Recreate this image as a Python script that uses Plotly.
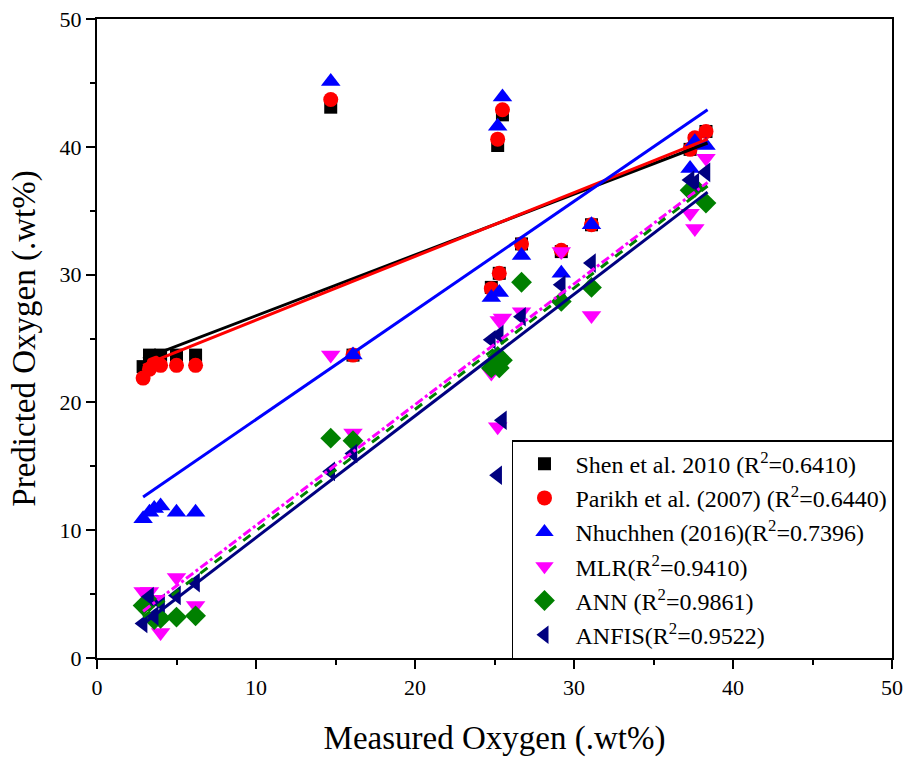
import plotly.graph_objects as go

measured = [2.9, 3.3, 3.6, 4.0, 5.0, 6.2, 14.7, 16.1, 24.8, 25.2, 25.3, 25.5, 26.7, 29.2, 31.1, 37.3, 37.6, 38.3]
shen     = [22.8, 23.7, 23.6, 23.7, 23.7, 23.7, 43.1, 23.7, 29.0, 40.1, 30.1, 42.5, 32.4, 31.8, 33.9, 39.8, 40.5, 41.2]
parikh   = [21.9, 22.6, 23.1, 22.9, 22.9, 22.9, 43.7, 23.7, 28.9, 40.6, 30.1, 42.9, 32.4, 31.9, 33.9, 39.8, 40.7, 41.2]
nhuchhen = [10.9, 11.4, 11.7, 11.9, 11.4, 11.4, 45.1, 23.7, 28.2, 41.6, 28.6, 43.9, 31.5, 30.1, 33.9, 38.3, 40.4, 40.1]
mlr      = [5.2, 5.2, 4.6, 2.0, 6.3, 4.1, 23.7, 17.6, 22.3, 18.1, 26.4, 26.6, 27.1, 31.8, 26.8, 34.8, 33.6, 39.1]
ann      = [4.1, 4.4, 3.0, 3.1, 3.2, 3.3, 17.2, 17.0, 22.7, 23.6, 22.7, 23.3, 29.4, 27.9, 29.0, 36.6, 36.8, 35.6]
anfis    = [2.7, 4.8, 3.3, 4.3, 4.9, 5.9, 14.6, 16.0, 24.9, 14.3, 25.3, 18.6, 26.7, 29.2, 30.9, 37.4, 37.2, 38.0]

series_names = [
    "Shen et al. 2010 (R<sup>2</sup>=0.6410)",
    "Parikh et al. (2007) (R<sup>2</sup>=0.6440)",
    "Nhuchhen (2016)(R<sup>2</sup>=0.7396)",
    "MLR(R<sup>2</sup>=0.9410)",
    "ANN (R<sup>2</sup>=0.9861)",
    "ANFIS(R<sup>2</sup>=0.9522)",
]
# fitted line parameters
fit_slope     = [0.476, 0.4986, 0.8535, 0.945, 0.950, 0.952]
fit_intercept = [22.02, 21.45, 10.125, 0.92, 0.45, -0.10]
fit_x_range   = [2.9, 38.4]

values = [shen, parikh, nhuchhen, mlr, ann, anfis]
colors = ["black", "red", "blue", "magenta", "green", "navy"]
symbols = ["square", "circle", "triangle-up", "triangle-down", "diamond", "triangle-left"]
sizes = [13, 15, 17, 17, 16, 17]
dashes = ["solid", "solid", "solid", "dashdot", "dash", "solid"]

fig = go.Figure()
for i, (name, vals, c, s, sz) in enumerate(zip(series_names, values, colors, symbols, sizes)):
    fig.add_trace(go.Scatter(x=measured, y=vals, mode="markers", name=name, legendgroup=f"g{i}",
                             marker=dict(color=c, symbol=s, size=sz, line=dict(width=0))))
for c, m, b, d in zip(colors, fit_slope, fit_intercept, dashes):
    xs = fit_x_range
    ys = [m * x + b for x in xs]
    fig.add_trace(go.Scatter(x=xs, y=ys, mode="lines", showlegend=False,
                             line=dict(color=c, width=3, dash=d), hoverinfo="skip"))

font = "Liberation Serif"
axis_common = dict(range=[0, 50], dtick=10, tick0=0, showgrid=False, zeroline=False,
                   showline=True, linecolor="black", linewidth=2, mirror=True,
                   ticks="outside", ticklen=9, tickwidth=2, tickcolor="black", automargin=False,
                   minor=dict(dtick=5, tick0=0, ticks="outside", ticklen=5, tickwidth=2, tickcolor="black"),
                   tickfont=dict(family=font, size=22, color="black"))

fig.update_layout(
    width=909, height=762,
    margin=dict(l=97, r=17, t=19, b=104),
    plot_bgcolor="white", paper_bgcolor="white",
    xaxis=dict(**axis_common, title=dict(text="Measured Oxygen (.wt%)", font=dict(family=font, size=33, color="black"), standoff=26)),
    yaxis=dict(**axis_common, title=dict(text="Predicted Oxygen (.wt%)", font=dict(family=font, size=33, color="black"), standoff=14)),
    legend=dict(x=0.522, y=0.341, xanchor="left", yanchor="top",
                bordercolor="black", borderwidth=1.5, bgcolor="white",
                font=dict(family=font, size=24, color="black"),
                itemwidth=52, tracegroupgap=0),
    showlegend=True,
)
fig.write_html("out.html")
